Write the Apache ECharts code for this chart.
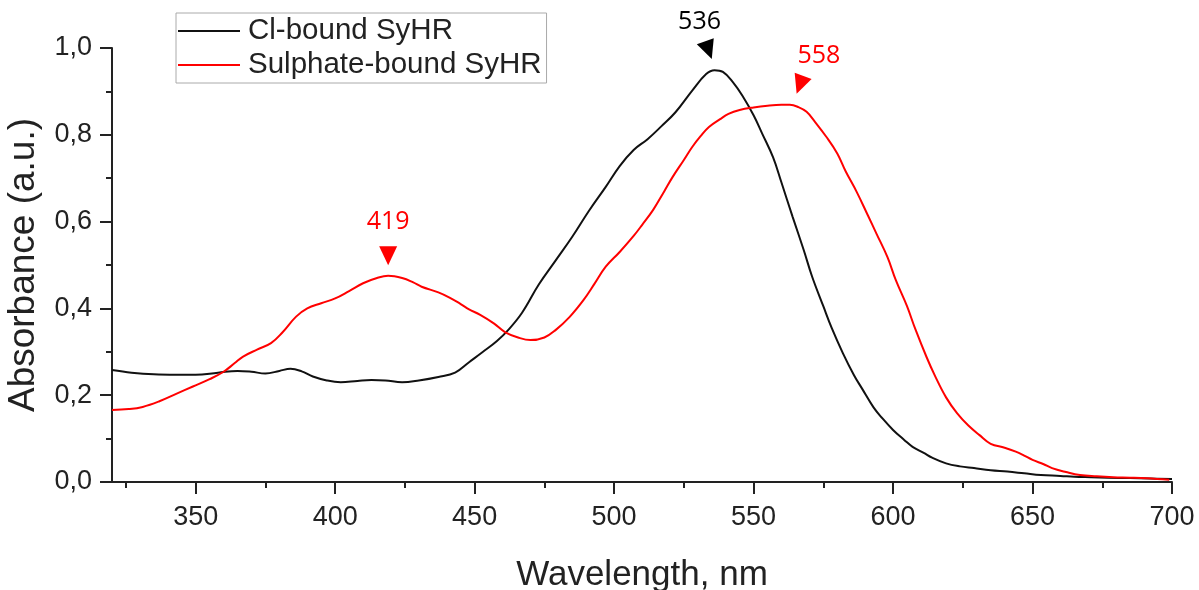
<html>

<head>
    <meta charset="UTF-8">
    <title>SyHR absorbance</title>
    <script src="https://cdn.jsdelivr.net/npm/echarts@6/dist/echarts.min.js"></script>
</head>

<body style="margin:0">
    <div id="container" style="width: 1199px;height:590px;"></div>
</body>

<script>
    // Cl-bound SyHR spectrum
    var clX = [320, 327, 335, 343, 350, 358, 365, 370, 375, 380, 384, 388, 392, 397, 402, 408, 413, 418, 424, 430,
        437, 443, 448, 453, 458, 462, 467, 473, 479, 485, 491, 497, 502, 507, 512, 517, 522, 528, 533, 536,
        539, 542.5, 546, 550, 553, 557, 560, 564, 568, 571, 575, 578, 582, 586, 589, 593, 596, 600, 604, 607,
        611, 614, 619, 624, 629, 635, 641, 647, 653, 660, 665, 671, 677, 685, 692, 700];
    var clY = [0.258, 0.252, 0.248, 0.247, 0.247, 0.252, 0.256, 0.254, 0.250, 0.256, 0.261, 0.255, 0.243, 0.234, 0.230, 0.233, 0.235, 0.234, 0.230, 0.234,
        0.242, 0.252, 0.276, 0.300, 0.325, 0.350, 0.390, 0.455, 0.510, 0.565, 0.625, 0.680, 0.728, 0.765, 0.790, 0.820, 0.852, 0.902, 0.940, 0.949,
        0.945, 0.922, 0.890, 0.845, 0.804, 0.748, 0.690, 0.611, 0.534, 0.473, 0.405, 0.355, 0.297, 0.246, 0.214, 0.172, 0.148, 0.120, 0.097, 0.081,
        0.067, 0.056, 0.043, 0.036, 0.032, 0.027, 0.024, 0.020, 0.016, 0.014, 0.012, 0.011, 0.010, 0.009, 0.008, 0.007];

    // Sulphate-bound SyHR spectrum
    var suX = [320, 326, 331, 337, 343, 349, 355, 360, 364, 367, 372, 377, 381, 386, 390, 395, 400, 405, 410, 415,
        419, 424, 428, 431, 437, 441, 445, 448, 452, 457, 461, 466, 470, 475, 479, 484, 489, 493, 497, 502,
        507, 510, 514, 518, 521, 525, 528, 531, 534, 538, 541, 545, 550, 555, 560, 563, 566, 569, 572, 576,
        580, 583, 587, 591, 594, 598, 601, 605, 608, 612, 615, 619, 623, 627, 631, 635, 640, 644, 647, 650,
        654, 657, 662, 667, 673, 679, 685, 691, 699];
    var suY = [0.166, 0.168, 0.173, 0.186, 0.203, 0.220, 0.237, 0.254, 0.274, 0.289, 0.305, 0.320, 0.344, 0.381, 0.400, 0.412, 0.423, 0.440, 0.458, 0.470,
        0.475, 0.470, 0.460, 0.450, 0.437, 0.425, 0.410, 0.398, 0.385, 0.365, 0.345, 0.332, 0.327, 0.333, 0.350, 0.380, 0.419, 0.457, 0.496, 0.530,
        0.567, 0.592, 0.627, 0.670, 0.703, 0.742, 0.772, 0.797, 0.818, 0.836, 0.848, 0.857, 0.863, 0.867, 0.869, 0.869, 0.864, 0.853, 0.830, 0.796,
        0.757, 0.716, 0.668, 0.614, 0.573, 0.518, 0.465, 0.405, 0.352, 0.288, 0.245, 0.195, 0.158, 0.130, 0.108, 0.088, 0.079, 0.070, 0.061, 0.051,
        0.041, 0.032, 0.023, 0.016, 0.013, 0.011, 0.010, 0.0085, 0.005];

    var seriesNames = ['Cl-bound SyHR', 'Sulphate-bound SyHR'];
    var clPeakX = [536], clPeakY = [0.949];
    var suPeakX = [419, 558], suPeakY = [0.475, 0.869];
    var xMajorTicks = [350, 400, 450, 500, 550, 600, 650, 700];
    var xMinorTicks = [325, 375, 425, 475, 525, 575, 625, 675];

    function zip(xs, ys) {
        var out = [];
        for (var i = 0; i < xs.length; i++) out.push([xs[i], ys[i]]);
        return out;
    }

    // triangle + number above each peak
    function peakMarks(xs, ys, color, looks) {
        var data = [];
        for (var i = 0; i < xs.length; i++) {
            data.push({
                coord: [xs[i], ys[i]],
                symbol: 'triangle',
                symbolSize: [18, 19],
                symbolRotate: looks[i].rot,
                symbolOffset: looks[i].sym,
                itemStyle: { color: color },
                label: {
                    show: true, position: 'inside', offset: looks[i].lab,
                    formatter: String(xs[i]), color: color,
                    fontFamily: 'Open Sans', fontSize: 25
                }
            });
        }
        return { silent: true, animation: false, data: data };
    }

    var mycharts = echarts.init(document.getElementById('container'));
    var axisColor = '#222';
    var font = 'Liberation Sans';

    var option = {
        animation: false,
        grid: { left: 112, right: 27, top: 48, bottom: 108, outerBoundsMode: 'none' },
        legend: {
            orient: 'vertical', left: 176, top: 13,
            padding: [3, 5, 3, 2], itemGap: 4,
            itemWidth: 62, itemHeight: 2, icon: 'rect',
            borderColor: '#aaa', borderWidth: 1,
            textStyle: { fontFamily: font, fontSize: 29.5, color: axisColor, padding: [0, 0, 0, 3] },
            data: seriesNames
        },
        xAxis: [{
            type: 'value', min: 320, max: 700,
            name: 'Wavelength, nm', nameLocation: 'middle', nameGap: 76,
            nameTextStyle: { fontFamily: font, fontSize: 35, color: axisColor },
            axisLine: { lineStyle: { color: axisColor, width: 2 } },
            axisTick: { length: 12, lineStyle: { width: 2 }, customValues: xMajorTicks },
            axisLabel: { customValues: xMajorTicks, fontFamily: font, fontSize: 27, color: axisColor, margin: 22 },
            splitLine: { show: false }
        }, {
            type: 'value', min: 320, max: 700, position: 'bottom',
            axisLine: { show: false },
            axisTick: { length: 6, lineStyle: { color: axisColor, width: 2 }, customValues: xMinorTicks },
            axisLabel: { show: false },
            splitLine: { show: false }
        }],
        yAxis: {
            type: 'value', min: 0, max: 1, interval: 0.2,
            name: 'Absorbance (a.u.)', nameLocation: 'middle', nameGap: 70,
            nameTextStyle: { fontFamily: font, fontSize: 37, color: axisColor },
            axisLine: { show: true, lineStyle: { color: axisColor, width: 2 } },
            axisTick: { show: true, length: 12, lineStyle: { width: 2 } },
            minorTick: { show: true, splitNumber: 2, length: 6, lineStyle: { color: axisColor, width: 2 } },
            axisLabel: {
                fontFamily: font, fontSize: 27, color: axisColor, margin: 20,
                formatter: function (v) { return v.toFixed(1).replace('.', ','); }
            },
            splitLine: { show: false }
        },
        series: [{
            name: seriesNames[0], type: 'line', symbol: 'none', smooth: 0.4,
            lineStyle: { color: '#111', width: 2 }, itemStyle: { color: '#111' },
            data: zip(clX, clY),
            markPoint: peakMarks(clPeakX, clPeakY, '#000', [
                { rot: 200, sym: [-6, -20], lab: [-9, -28] }
            ])
        }, {
            name: seriesNames[1], type: 'line', symbol: 'none', smooth: 0.4,
            lineStyle: { color: '#ff0000', width: 2 }, itemStyle: { color: '#ff0000' },
            data: zip(suX, suY),
            markPoint: peakMarks(suPeakX, suPeakY, '#ff0000', [
                { rot: 180, sym: [0, -20], lab: [0, -34] },
                { rot: 160, sym: [24, -20], lab: [19, -29] }
            ])
        }]
    };

    mycharts.setOption(option);
</script>

</html>
